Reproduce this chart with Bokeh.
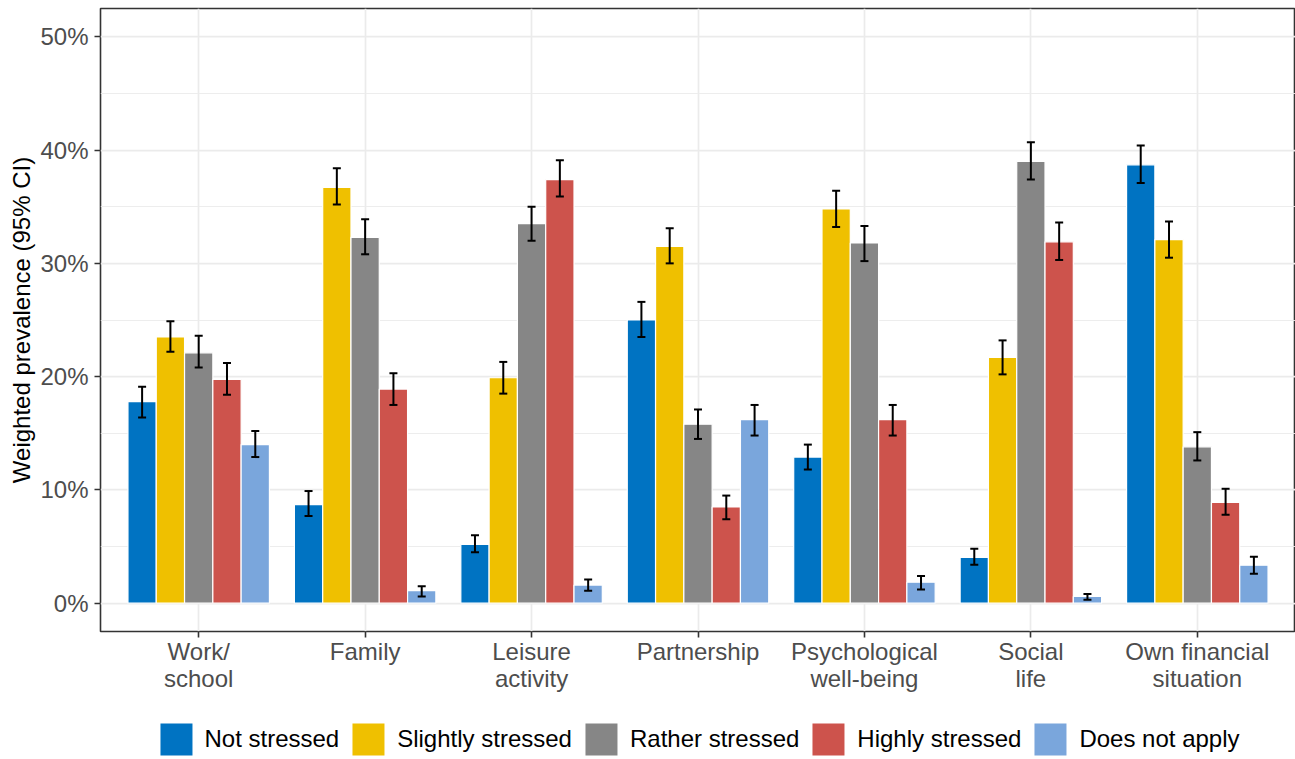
from bokeh.plotting import figure
from bokeh.layouts import column
from bokeh.models import (ColumnDataSource, Range1d, Whisker, TeeHead, FixedTicker, LinearAxis,
                          SingleIntervalTicker, PrintfTickFormatter, Legend, LegendItem)
from bokeh.transform import dodge
from bokeh.embed import file_html
from bokeh.resources import INLINE

categories = ["Work/school", "Family", "Leisure activity", "Partnership",
              "Psychological well-being", "Social life", "Own financial situation"]
label_line1 = ["Work/", "Family", "Leisure", "Partnership", "Psychological", "Social", "Own financial"]
label_line2 = ["school", "", "activity", "", "well-being", "life", "situation"]
statuses = ["Not stressed", "Slightly stressed", "Rather stressed", "Highly stressed", "Does not apply"]
colors = ["#0073C2", "#EFC000", "#868686", "#CD534C", "#7AA6DC"]

not_stressed      = [17.8,  8.7,  5.2, 25.0, 12.9,  4.05, 38.7]
not_stressed_lo   = [16.4,  7.7,  4.5, 23.5, 11.8,  3.4, 37.1]
not_stressed_hi   = [19.1,  9.9,  6.0, 26.6, 14.0,  4.8, 40.4]

slightly          = [23.5, 36.7, 19.9, 31.5, 34.8, 21.7, 32.1]
slightly_lo       = [22.2, 35.2, 18.5, 30.0, 33.2, 20.2, 30.5]
slightly_hi       = [24.9, 38.4, 21.3, 33.1, 36.4, 23.2, 33.7]

rather            = [22.1, 32.3, 33.5, 15.8, 31.8, 39.0, 13.8]
rather_lo         = [20.8, 30.8, 32.0, 14.5, 30.2, 37.4, 12.6]
rather_hi         = [23.6, 33.9, 35.0, 17.1, 33.3, 40.7, 15.1]

highly            = [19.75, 18.9, 37.4,  8.5, 16.2, 31.9,  8.9]
highly_lo         = [18.4, 17.5, 35.9,  7.4, 14.8, 30.3,  7.8]
highly_hi         = [21.2, 20.3, 39.1,  9.5, 17.5, 33.6, 10.1]

not_apply         = [14.0,  1.1,  1.6, 16.2,  1.85, 0.6,  3.35]
not_apply_lo      = [12.9,  0.6,  1.1, 14.8,  1.2,  0.3,  2.6]
not_apply_hi      = [15.2,  1.5,  2.1, 17.5,  2.4,  0.8,  4.1]

series = [(not_stressed, not_stressed_lo, not_stressed_hi),
          (slightly, slightly_lo, slightly_hi),
          (rather, rather_lo, rather_hi),
          (highly, highly_lo, highly_hi),
          (not_apply, not_apply_lo, not_apply_hi)]

FONT = "Liberation Sans"
positions = list(range(len(categories)))

p = figure(x_range=Range1d(-0.59, len(categories) - 0.41),
           y_range=Range1d(-2.5, 52.5),
           width=1295, height=694, output_backend="svg", toolbar_location=None,
           min_border_left=100, min_border_right=0, min_border_top=8, min_border_bottom=63,
           background_fill_color="white", border_fill_color="white")

bar_w = 0.17
for i, (st, col, (vals, lo, hi)) in enumerate(zip(statuses, colors, series)):
    off = (i - 2) * bar_w
    src = ColumnDataSource(dict(pos=positions, cat=categories, val=vals, lower=lo, upper=hi))
    p.vbar(x=dodge("pos", off), top="val", bottom=0, width=bar_w,
           source=src, fill_color=col, line_color="white", line_width=1.2)
    w = Whisker(base=dodge("pos", off), lower="lower", upper="upper", level="overlay",
                source=src, dimension="height", line_color="black", line_width=2,
                upper_head=TeeHead(size=8, line_color="black", line_width=2),
                lower_head=TeeHead(size=8, line_color="black", line_width=2))
    p.add_layout(w)

# frame / grid
p.outline_line_color = "#333333"
p.outline_line_width = 1.6
p.xgrid.grid_line_color = "#EBEBEB"
p.xgrid.grid_line_width = 1.75
p.ygrid.grid_line_color = "#EBEBEB"
p.ygrid.grid_line_width = 1.75
p.ygrid.minor_grid_line_color = "#EBEBEB"
p.ygrid.minor_grid_line_width = 0.9

# y axis
p.yaxis.ticker = SingleIntervalTicker(interval=10, num_minor_ticks=2)
p.yaxis.formatter = PrintfTickFormatter(format="%d%%")
p.yaxis.axis_label = "Weighted prevalence (95% CI)"
p.yaxis.axis_label_text_font = FONT
p.yaxis.axis_label_text_font_size = "24px"
p.yaxis.axis_label_text_font_style = "normal"
p.yaxis.axis_label_text_color = "black"
p.yaxis.axis_label_standoff = 2

# x axis: first label line on the main axis, second line on an extra axis below
p.xaxis.ticker = FixedTicker(ticks=positions, minor_ticks=[])
p.xaxis.major_label_overrides = {k: t for k, t in zip(positions, label_line1)}

ax2 = LinearAxis(ticker=FixedTicker(ticks=positions, minor_ticks=[]),
                 major_label_overrides={k: (t if t else " ") for k, t in zip(positions, label_line2)})
p.add_layout(ax2, "below")

for ax in (p.xaxis[0], p.yaxis[0], ax2):
    ax.axis_line_color = None
    ax.major_tick_line_color = "#333333"
    ax.major_tick_line_width = 1.6
    ax.major_tick_out = 6
    ax.major_tick_in = 0
    ax.minor_tick_line_color = None
    ax.major_label_text_font = FONT
    ax.major_label_text_font_size = "24px"
    ax.major_label_text_color = "#4D4D4D"

p.yaxis.major_label_standoff = 6
p.xaxis[0].major_label_standoff = 0
ax2.major_tick_line_color = None
ax2.major_tick_out = 0
ax2.major_label_standoff = -3

# legend strip underneath (its key glyphs sit outside the visible range)
lg = figure(width=1295, height=65, output_backend="svg", toolbar_location=None,
            x_axis_location=None, y_axis_location=None,
            x_range=Range1d(0, 1), y_range=Range1d(0, 1),
            min_border_left=84, min_border_right=0, min_border_top=0, min_border_bottom=0,
            outline_line_color=None,
            background_fill_color="white", border_fill_color="white")
lg.grid.visible = False
items = []
for st, col in zip(statuses, colors):
    r = lg.vbar(x=[-5], top=[-5], bottom=[-6], width=0.1, fill_color=col, line_color=col, line_alpha=0)
    items.append(LegendItem(label=st, renderers=[r]))
legend = Legend(items=items, orientation="horizontal", location="bottom_center",
                glyph_width=40, glyph_height=40, label_standoff=9, spacing=9,
                padding=0, margin=0, border_line_color=None, background_fill_alpha=0,
                label_text_font=FONT, label_text_font_size="24px", label_text_color="black",
                label_height=40)
lg.add_layout(legend, "center")

layout = column(p, lg, spacing=0)
open("out.html", "w").write(file_html(layout, INLINE))
